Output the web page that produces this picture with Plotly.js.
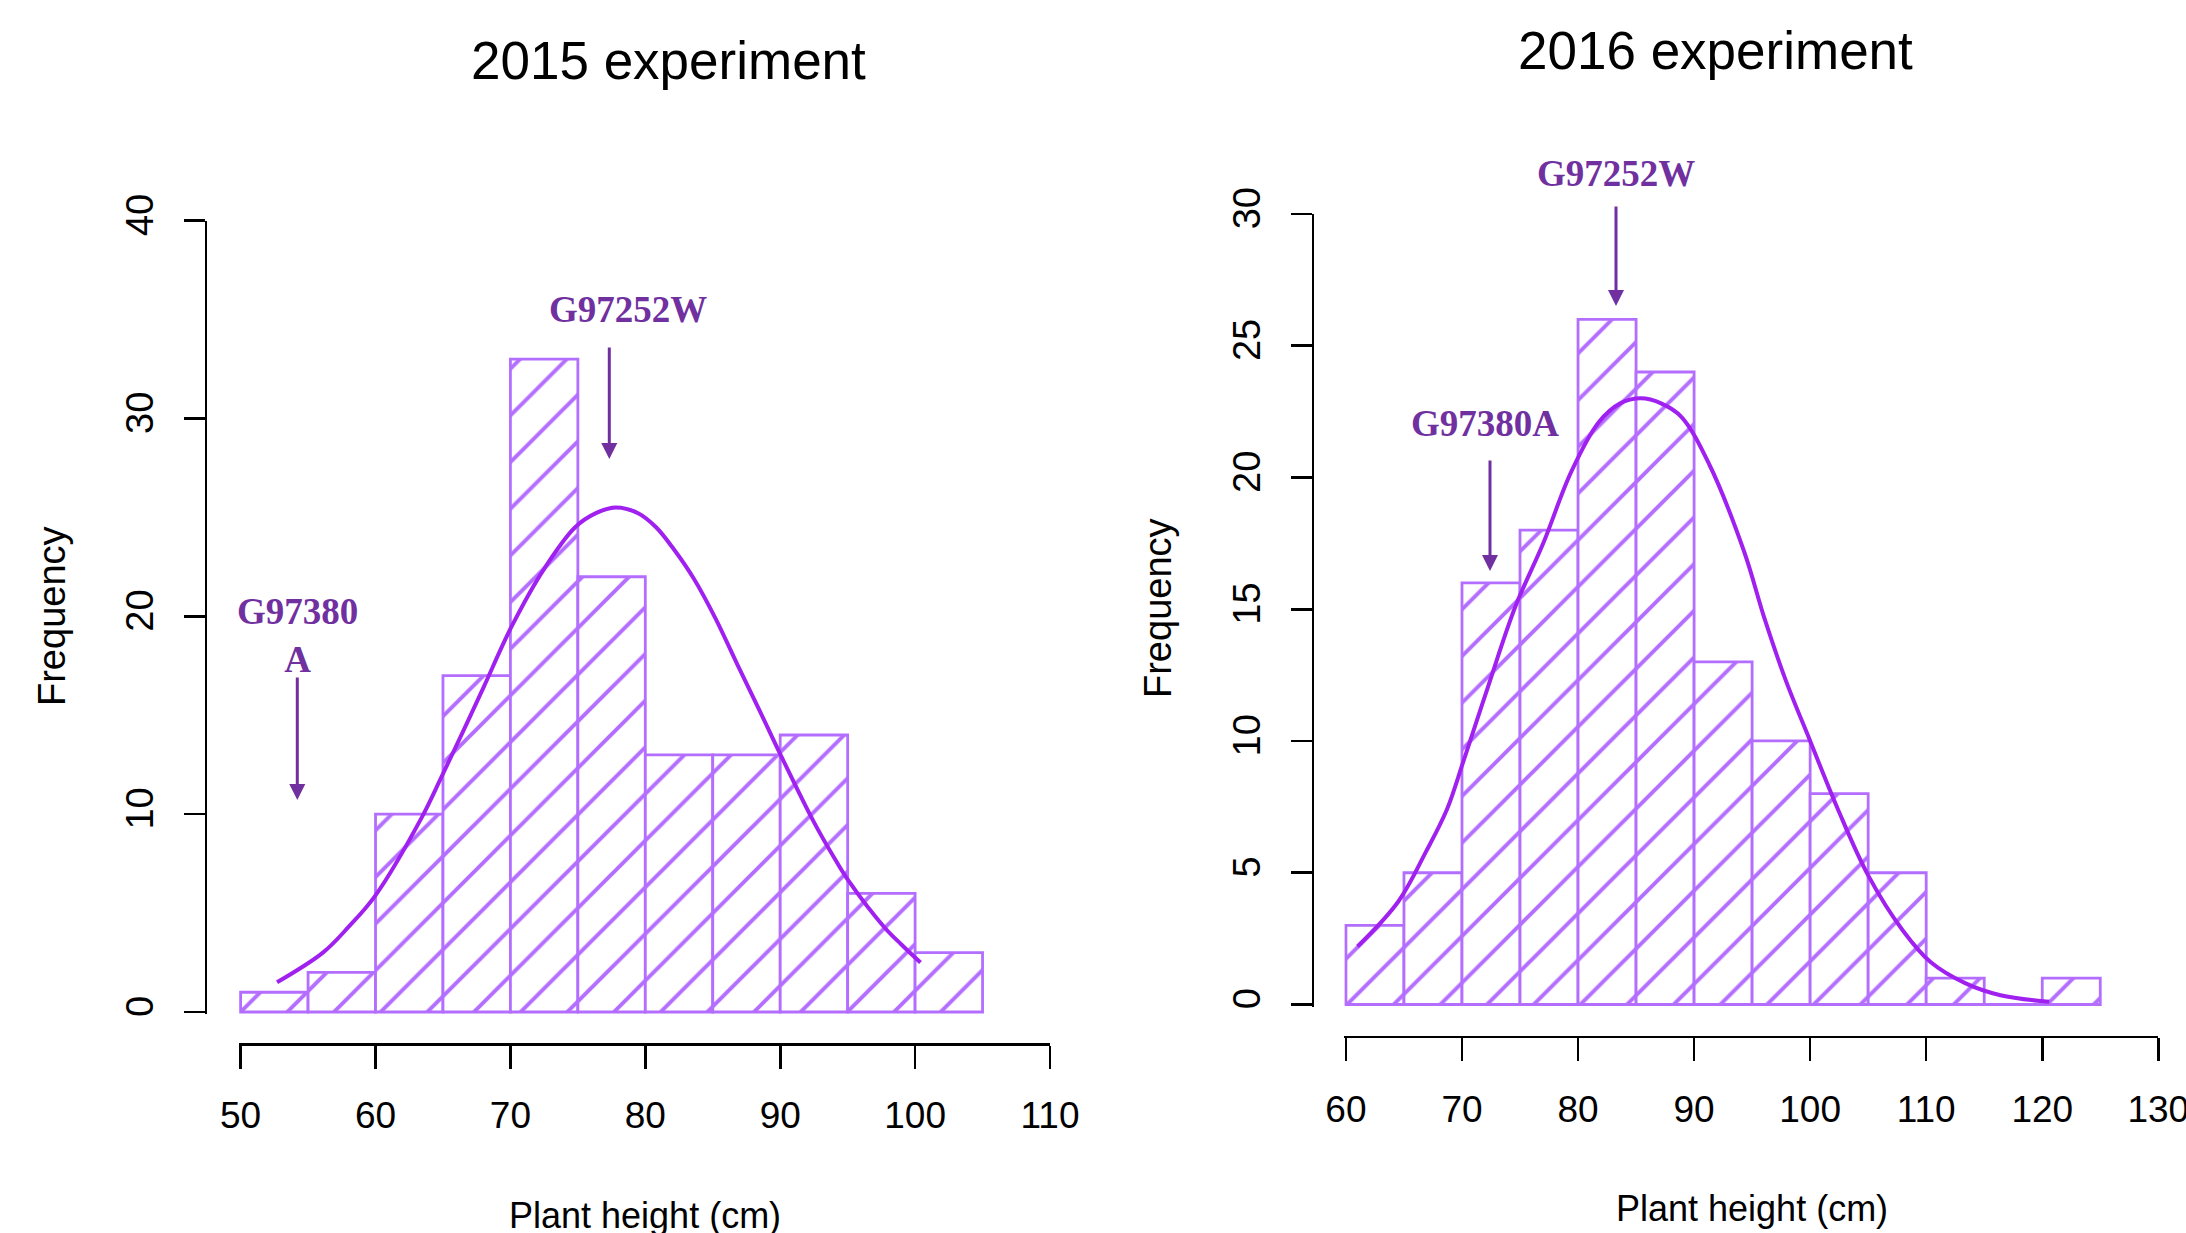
<!DOCTYPE html>
<html>
<head>
<meta charset="utf-8">
<script src="https://cdn.plot.ly/plotly-3.0.1.min.js"></script>
<style>html,body{margin:0;padding:0;background:#fff;}#chart{width:2186px;height:1233px;}</style>
</head>
<body>
<div id="chart"></div>
<script>
// ---------- DATA ----------
const binWidth = 5;
const binStart2015 = [50, 55, 60, 65, 70, 75, 80, 85, 90, 95, 100];
const counts2015   = [1, 2, 10, 17, 33, 22, 13, 13, 14, 6, 3];
const binStart2016 = [60, 65, 70, 75, 80, 85, 90, 95, 100, 105, 110, 115, 120];
const counts2016   = [3, 5, 16, 18, 26, 24, 13, 10, 8, 5, 1, 0, 1];

// fitted curves
const curveX2015 = [52.7, 56.1, 58.0, 60.0, 63.4, 64.9, 66.5, 68.0, 70.1, 72.5, 74.8, 76.3, 77.8, 79.5, 80.8, 82.1, 83.6, 85.2, 86.8, 88.5, 90.1, 92.5, 94.0, 95.1, 97.7, 99.0, 100.4];
const curveY2015 = [1.5, 3.0, 4.3, 5.9, 9.8, 11.9, 14.2, 16.4, 19.5, 22.4, 24.5, 25.2, 25.5, 25.2, 24.5, 23.4, 21.9, 19.9, 17.6, 15.2, 12.9, 9.6, 7.8, 6.6, 4.3, 3.4, 2.5];
const curveX2016 = [61.0, 64.5, 66.9, 68.7, 70.1, 72.2, 74.6, 77.0, 79.4, 81.8, 83.6, 85.4, 87.2, 88.9, 91.3, 94.3, 96.1, 97.9, 100.0, 102.4, 105.0, 108.0, 110.4, 113.4, 116.4, 120.6];
const curveY2016 = [2.2, 3.9, 5.8, 7.4, 9.2, 12.0, 15.1, 17.5, 20.2, 22.1, 22.8, 23.0, 22.8, 22.3, 20.5, 17.2, 14.6, 12.3, 10.0, 7.4, 4.9, 2.8, 1.6, 0.8, 0.35, 0.1];

const xTicks2015 = [50, 60, 70, 80, 90, 100, 110];
const yTicks2015 = [0, 10, 20, 30, 40];
const xTicks2016 = [60, 70, 80, 90, 100, 110, 120, 130];
const yTicks2016 = [0, 5, 10, 15, 20, 25, 30];

const titles = ["2015 experiment", "2016 experiment"];
const xTitle = "Plant height (cm)";
const yTitle = "Frequency";

// ---------- STYLE ----------
const W = 2186, H = 1233;
const barCol = "#B46EFF";
const curveCol = "#A020F0";
const noteCol = "#7030A0";
const sans = "Liberation Sans, Arial, sans-serif";
const serif = "Liberation Serif, Times New Roman, serif";
const px = (x) => x / W;
const py = (y) => 1 - y / H;

function hist(xs, ys, xa, ya) {
  return {
    type: "bar", x: xs, y: ys, width: binWidth, offset: 0,
    xaxis: xa, yaxis: ya,
    marker: {
      color: "white",
      line: { color: barCol, width: 2.8 },
      pattern: { shape: "/", fgcolor: barCol, fgopacity: 1, size: 33, solidity: 0.12, fillmode: "overlay" }
    },
    hoverinfo: "skip"
  };
}
function curve(xs, ys, xa, ya) {
  return {
    type: "scatter", mode: "lines", x: xs, y: ys, xaxis: xa, yaxis: ya,
    line: { color: curveCol, width: 4, shape: "spline", smoothing: 1 },
    hoverinfo: "skip"
  };
}

const data = [
  hist(binStart2015, counts2015, "x", "y"),
  curve(curveX2015, curveY2015, "x", "y"),
  hist(binStart2016, counts2016, "x2", "y2"),
  curve(curveX2016, curveY2016, "x2", "y2")
];

const axBase = {
  showgrid: false, zeroline: false, showline: true, linecolor: "black", linewidth: 2.6,
  ticks: "outside", tickcolor: "black", tickwidth: 2.6, tickmode: "array",
  ticklabeloverflow: "allow",
  tickfont: { family: sans, size: 37, color: "black" }
};

const layout = {
  width: W, height: H,
  margin: { l: 0, r: 0, t: 0, b: 0 },
  paper_bgcolor: "white", plot_bgcolor: "white",
  showlegend: false, bargap: 0,
  xaxis: Object.assign({}, axBase, {
    range: [49.85, 110], domain: [px(238.6), px(1050)],
    anchor: "free", position: py(1044), tickvals: xTicks2015, ticklen: 23, ticklabelstandoff: 15
  }),
  yaxis: Object.assign({}, axBase, {
    range: [-0.1, 40], domain: [py(1014), py(220.6)],
    anchor: "free", position: px(205.5), tickvals: yTicks2015, ticklen: 21, tickangle: -90,
    ticklabelstandoff: 15, tickfont: { family: sans, size: 38, color: "black" }
  }),
  xaxis2: Object.assign({}, axBase, {
    range: [59.85, 130], domain: [px(1344.2), px(2158.3)],
    anchor: "free", position: py(1036.8), tickvals: xTicks2016, ticklen: 23, ticklabelstandoff: 16
  }),
  yaxis2: Object.assign({}, axBase, {
    range: [-0.08, 30], domain: [py(1006.6), py(213.9)],
    anchor: "free", position: px(1312.6), tickvals: yTicks2016, ticklen: 21, tickangle: -90,
    ticklabelstandoff: 15, tickfont: { family: sans, size: 38, color: "black" }
  }),
  annotations: [
    // titles
    { text: titles[0], xref: "paper", yref: "paper", x: px(668), y: py(61), xanchor: "center", yanchor: "middle", showarrow: false, font: { family: sans, size: 53, color: "black" } },
    { text: titles[1], xref: "paper", yref: "paper", x: px(1715), y: py(51), xanchor: "center", yanchor: "middle", showarrow: false, font: { family: sans, size: 53, color: "black" } },
    // axis titles
    { text: xTitle, xref: "paper", yref: "paper", x: px(645), y: py(1215), xanchor: "center", yanchor: "middle", showarrow: false, font: { family: sans, size: 36, color: "black" } },
    { text: xTitle, xref: "paper", yref: "paper", x: px(1752), y: py(1208), xanchor: "center", yanchor: "middle", showarrow: false, font: { family: sans, size: 36, color: "black" } },
    { text: yTitle, textangle: -90, xref: "paper", yref: "paper", x: px(52), y: py(616), xanchor: "center", yanchor: "middle", showarrow: false, font: { family: sans, size: 38, color: "black" } },
    { text: yTitle, textangle: -90, xref: "paper", yref: "paper", x: px(1158), y: py(608), xanchor: "center", yanchor: "middle", showarrow: false, font: { family: sans, size: 38, color: "black" } },
    // genotype labels
    { text: "G97252W", xref: "paper", yref: "paper", x: px(628), y: py(309), xanchor: "center", yanchor: "middle", showarrow: false, font: { family: serif, size: 37, color: noteCol, weight: "bold" } },
    { text: "G97380<br>A", xref: "paper", yref: "paper", x: px(297), y: py(635), xanchor: "center", yanchor: "middle", showarrow: false, font: { family: serif, size: 37, color: noteCol, weight: "bold" } },
    { text: "G97252W", xref: "paper", yref: "paper", x: px(1616), y: py(173), xanchor: "center", yanchor: "middle", showarrow: false, font: { family: serif, size: 37, color: noteCol, weight: "bold" } },
    { text: "G97380A", xref: "paper", yref: "paper", x: px(1485), y: py(423), xanchor: "center", yanchor: "middle", showarrow: false, font: { family: serif, size: 37, color: noteCol, weight: "bold" } },
    // arrows
    { text: "", xref: "paper", yref: "paper", x: px(609.3), y: py(459), ax: 0, ay: -(459 - 346), showarrow: true, arrowhead: 2, arrowwidth: 3, arrowsize: 1.07, arrowcolor: noteCol, standoff: 0 },
    { text: "", xref: "paper", yref: "paper", x: px(297.3), y: py(800), ax: 0, ay: -(800 - 676), showarrow: true, arrowhead: 2, arrowwidth: 3, arrowsize: 1.07, arrowcolor: noteCol, standoff: 0 },
    { text: "", xref: "paper", yref: "paper", x: px(1616), y: py(306), ax: 0, ay: -(306 - 205), showarrow: true, arrowhead: 2, arrowwidth: 3, arrowsize: 1.07, arrowcolor: noteCol, standoff: 0 },
    { text: "", xref: "paper", yref: "paper", x: px(1490), y: py(571), ax: 0, ay: -(571 - 459), showarrow: true, arrowhead: 2, arrowwidth: 3, arrowsize: 1.07, arrowcolor: noteCol, standoff: 0 }
  ]
};

Plotly.newPlot("chart", data, layout, { staticPlot: true, displayModeBar: false });
</script>
</body>
</html>
